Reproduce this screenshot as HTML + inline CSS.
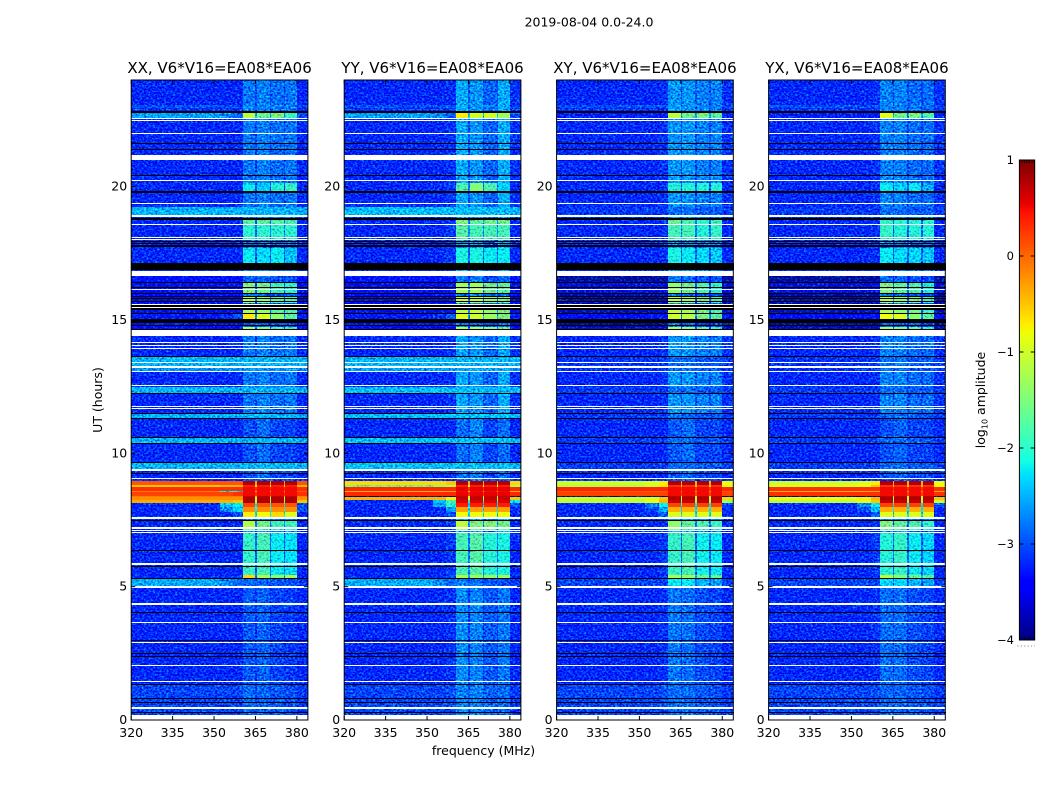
<!DOCTYPE html>
<html lang="en">
<head>
<meta charset="utf-8">
<title>2019-08-04 0.0-24.0</title>
<style>
html,body{margin:0;padding:0;background:#fff;width:1050px;height:800px;overflow:hidden}
svg{display:block}
text{font-family:"DejaVu Sans","Liberation Sans",sans-serif;fill:#000}
</style>
</head>
<body>
<svg id="figure" xmlns="http://www.w3.org/2000/svg" width="1050" height="800" viewBox="0 0 1050 800">
  <defs>
    <filter id="speckle" filterUnits="userSpaceOnUse" x="0" y="0" width="1050" height="800" color-interpolation-filters="sRGB">
      <feTurbulence type="fractalNoise" baseFrequency="0.45 0.55" numOctaves="2" seed="7" result="t"/>
      <feColorMatrix in="t" type="matrix" values="0 0 0 0 0.5  1 0 0 0 0  0.3 0 0 0 0.35  0 0 0 0 1" result="n"/>
      <feComposite in="SourceGraphic" in2="n" operator="arithmetic" k1="0" k2="1" k3="1.5" k4="-0.75" result="m"/>
      <feComposite in="m" in2="SourceGraphic" operator="in"/>
    </filter>
  </defs>
  <text x="589" y="26.5" font-size="12.5" text-anchor="middle">2019-08-04 0.0-24.0</text>
  <text x="483.5" y="755" font-size="12.5" text-anchor="middle">frequency (MHz)</text>
  <text x="0" y="0" font-size="12.5" text-anchor="middle" transform="translate(102 400) rotate(-90)">UT (hours)</text>
  <text x="0" y="0" font-size="12.5" text-anchor="middle" transform="translate(985 400) rotate(-90)">log<tspan font-size="8" dy="2.5">10</tspan><tspan dy="-2.5"> amplitude</tspan></text>
  <line x1="1017.5" x2="1035" y1="646" y2="646" stroke="#777" stroke-width="1" stroke-dasharray="1 2.4"/>
</svg>
<script>
// ---- chart data ----------------------------------------------------------
const polarizations = ['XX', 'YY', 'XY', 'YX'];
const baselineLabel = 'V6*V16=EA08*EA06';
const xTicks = [320, 335, 350, 365, 380];
const yTicks = [0, 5, 10, 15, 20];
const colorTicks = [1, 0, -1, -2, -3, -4];
const colorTickLabels = ['1', '0', '\u22121', '\u22122', '\u22123', '\u22124'];
const xDomain = [320, 384];
const yDomain = [0, 24];
const colorDomain = [-4, 1];

// frequency column edges in MHz, and which spectrum slot each column reads
const freqEdges = [320, 352, 357, 360.5, 365, 365.6, 370.2, 370.8, 375.2, 375.8, 380, 384];
const columnSlots = [0, 1, 2, 3, 7, 4, 7, 5, 7, 6, 8];

// rows: [upper edge in UT hours, spectrum code]; w = flagged blank, k = flagged black
const rows = [
[24,'q'],[23.06,'qf'],[22.96,'q'],[22.92,'qf'],[22.875,'q'],[22.84,'k'],[22.77,'bB'],[22.575,'w'],[22.54,'q'],[22.5,'w'],[22.46,'q'],
[22.01,'w'],[21.975,'q'],[21.64,'k'],[21.6,'q'],[21.41,'k'],[21.375,'q'],[21.19,'w'],[21,'q'],[20.44,'k'],
[20.4,'q'],[20.25,'w'],[20.21,'q'],[20.14,'blk1'],[19.82,'k'],[19.78,'q'],[19.39,'w'],[19.35,'q'],[19.22,'bar'],
[18.92,'w'],[18.88,'q'],[18.81,'k'],[18.75,'blk2'],[18.6,'w'],[18.56,'blk3'],[18.13,'w'],[18.09,'blk3'],[18.04,'w'],
[18,'q'],[17.96,'k'],[17.93,'q'],[17.89,'k'],[17.85,'q'],[17.81,'k'],[17.75,'q'],[17.7,'blk4'],[17.12,'k'],
[16.875,'q'],[16.84,'w'],[16.65,'d'],[16.425,'k'],[16.39,'blk5a'],[16.24,'k'],[16.2,'blk5a'],[16.18,'w'],[16.14,'blk5a'],
[16.01,'k'],[15.98,'d'],[15.9,'k'],[15.86,'blk5'],[15.825,'k'],[15.79,'blk5'],[15.71,'k'],[15.675,'blk5'],[15.64,'d'],
[15.6,'w'],[15.56,'k'],[15.5,'w'],[15.46,'k'],[15.375,'blk5'],[15.27,'k'],[15.24,'blk6'],[15.02,'k'],[14.876,'d'],
[14.8,'k'],[14.775,'d'],[14.72,'blk5'],[14.67,'k'],[14.625,'w'],[14.4,'q'],
[14.18,'w'],[14.14,'q'],[14.06,'w'],[14.03,'q'],[13.95,'w'],[13.91,'q'],[13.65,'k'],[13.61,'bar2'],[13.44,'w'],
[13.41,'bar2'],[13.26,'w'],[13.21,'bar3'],[13.09,'w'],[13.05,'q'],[12.58,'w'],[12.54,'q'],[12.49,'bar'],[12.25,'k'],
[12.23,'q'],[11.79,'w'],[11.76,'q'],[11.7,'w'],[11.66,'q'],[11.53,'k'],[11.5,'bar'],[11.33,'k'],[11.3,'qn'],
[10.62,'k'],[10.59,'bar'],[10.38,'k'],[10.35,'qn'],[9.68,'k'],[9.65,'bar'],[9.42,'w'],[9.35,'qn'],[9.26,'k'],
[9.24,'qn'],[9.06,'w'],[9.02,'qn'],[8.95,'r1'],[8.81,'r2'],[8.75,'r3'],[8.6,'r4'],[8.55,'r5'],[8.4,'r6'],[8.35,'r7'],
[8.25,'r8'],[8.14,'r9'],[7.99,'r10'],[7.8,'r11'],[7.62,'w'],[7.55,'q'],[7.5,'k'],[7.46,'blk8'],[7.22,'w'],[7.16,'blk7'],
[7.13,'w'],[7.09,'q'],[7.05,'w'],[7.01,'blk9'],[6.39,'k'],[6.36,'blk9'],[5.87,'w'],[5.83,'blk9'],[5.78,'k'],
[5.74,'blk9'],[5.44,'blk10'],[5.34,'k'],[5.31,'bar4'],[5.04,'w'],[4.95,'qb'],[4.37,'w'],[4.33,'qb'],[4.05,'k'],
[4.01,'qb'],[3.66,'w'],[3.62,'qb'],[3,'k'],[2.97,'qb'],[2.91,'w'],[2.87,'qb'],[2.53,'k'],[2.49,'qb'],[2.41,'k'],
[2.36,'qb'],[2.08,'w'],[2.04,'qb'],[1.48,'w'],[1.44,'qb'],[1.35,'k'],[1.31,'qc'],[0.81,'k'],[0.79,'qc'],[0.68,'k'],
[0.64,'qc'],[0.47,'w'],[0.43,'qc'],[0.3,'k'],[0.26,'qc'],[0.19,'w']
];

// log10 amplitude per slot: [bg, ramp1, ramp2, band1, band2, band3, band4, gap, right]
const spectraXX = {
q:[-3.2,-3.2,-3.2,-2.8,-2.75,-2.85,-2.8,-3.05,-3.2], qf:[-3,-3,-3,-2.7,-2.75,-2.75,-2.75,-2.95,-3.05],
d:[-3.35,-3.35,-3.35,-2.9,-2.9,-3,-3,-3.1,-3.35],
qn:[-3.2,-3.2,-3.2,-3,-2.85,-3.05,-3.05,-3.1,-3.2], qb:[-3.2,-3.2,-3.2,-2.95,-2.9,-3.05,-3.1,-3.15,-3.2],
qc:[-3.05,-3.05,-3.05,-2.85,-2.9,-2.95,-3,-3.05,-3.1],
bB:[-2.6,-2.7,-2.9,-1.1,-1.6,-1.5,-1.9,-2.6,-3],
bar:[-2.5,-2.5,-2.5,-2.5,-2.5,-2.5,-2.5,-2.5,-2.55], bar2:[-2.5,-2.5,-2.5,-2.5,-2.5,-2.5,-2.5,-2.5,-2.5],
bar3:[-2.65,-2.65,-2.65,-2.6,-2.65,-2.65,-2.65,-2.65,-2.75], bar4:[-2.55,-2.7,-2.85,-2.85,-2.9,-2.95,-3,-3,-3.1],
blk1:[-3.2,-3.2,-3.2,-2.2,-2.4,-2.05,-1.95,-3,-3.2], blk2:[-3.2,-3.2,-3.2,-1.7,-1.7,-1.75,-1.8,-2.8,-3.2],
blk3:[-3.2,-3.2,-3.2,-2,-2,-2,-2,-2.8,-3.2], blk4:[-3.2,-3.2,-3.2,-2.2,-2.3,-2.2,-2.45,-2.95,-3.2],
blk5:[-3.5,-3.5,-3.5,-1.2,-1.4,-1.7,-1.8,-2.9,-3.5], blk5a:[-3.4,-3.4,-3.4,-1.5,-1.6,-1.9,-2,-2.9,-3.4],
blk6:[-3.3,-3.2,-3,-0.7,-0.9,-1.4,-1.7,-2.7,-3.3],
blk7:[-3.2,-3.2,-3.2,-1.4,-1.7,-1.9,-1.9,-2.8,-3.2], blk8:[-3.2,-3.2,-3.2,-1.2,-1.6,-1.9,-1.9,-2.8,-3.2],
blk9:[-3.2,-3.2,-3.2,-1.95,-1.85,-2.2,-2.25,-2.9,-3.2], blk10:[-3.2,-3.2,-3.1,-0.6,-1.2,-1.4,-1.2,-2.7,-3.2],
r1:[0.1,0.1,0.1,0.8,0.8,0.8,0.8,-0.3,0.1], r2:[-0.5,-0.4,-0.4,0.4,0.4,0.4,0.4,-0.6,-0.4],
r3:[0.3,0.3,0.3,0.5,0.5,0.5,0.5,0.3,0.3], r4:[-0.1,-2.2,-2.2,0.5,0.5,0.5,0.5,-0.3,0.1],
r5:[0.2,0.2,0.3,0.5,0.5,0.5,0.5,0.3,0.3], r6:[-0.1,-0.1,-0.1,0.7,0.7,0.7,0.7,-0.4,-0.1],
r7:[-0.2,-0.2,-0.2,0.8,0.8,0.8,0.8,-1,-0.2], r8:[-0.35,-0.4,-0.5,0.8,0.8,0.8,0.8,-1.2,-0.5],
r9:[-3.2,-2.4,-2.2,0.2,0.1,0.1,0.1,-2.1,-3], r10:[-3.2,-2.7,-2.3,-0.2,-0.2,-0.2,-0.2,-2.1,-3],
r11:[-3.2,-3.2,-3,-0.7,-0.8,-0.6,-0.9,-2.2,-3.2]
};
const spectraYY = {
q:[-3.2,-3.2,-3.15,-2.55,-2.65,-2.9,-2.55,-3,-3.15], qf:[-3,-3,-3,-2.5,-2.65,-2.75,-2.55,-2.9,-3.05],
d:[-3.35,-3.35,-3.3,-2.8,-2.8,-3,-2.9,-3.1,-3.35],
qn:[-3.2,-3.2,-3.2,-2.85,-2.75,-3.05,-2.85,-3.1,-3.2], qb:[-3.2,-3.2,-3.15,-2.7,-2.75,-2.95,-2.8,-3.1,-3.2],
qc:[-3.05,-3.05,-3,-2.75,-2.75,-2.9,-2.85,-3,-3.1],
bB:[-2.6,-2.7,-2.9,-0.7,-1,-1,-1.3,-2.4,-3],
bar:[-2.45,-2.45,-2.45,-2.45,-2.45,-2.45,-2.45,-2.45,-2.5], bar2:[-2.5,-2.5,-2.5,-2.5,-2.5,-2.5,-2.5,-2.5,-2.5],
bar3:[-2.6,-2.6,-2.6,-2.55,-2.55,-2.55,-2.55,-2.6,-2.65], bar4:[-2.55,-2.7,-2.85,-2.75,-2.85,-2.95,-3,-3,-3.1],
blk1:[-3.2,-3.2,-3.1,-1.8,-1.45,-1.8,-2.35,-2.8,-3.2], blk2:[-3.2,-3.2,-3.1,-1.5,-1.7,-1.6,-1.6,-2.7,-3.2],
blk3:[-3.2,-3.2,-3.1,-1.75,-1.85,-1.85,-1.85,-2.7,-3.2], blk4:[-3.2,-3.2,-3.1,-2.1,-2.1,-2.2,-2.2,-2.9,-3.2],
blk5:[-3.5,-3.5,-3.4,-1.1,-1.1,-1.4,-1.5,-2.8,-3.5], blk5a:[-3.4,-3.4,-3.3,-1.3,-1.3,-1.6,-1.7,-2.8,-3.4],
blk6:[-3.3,-3.2,-3,-0.9,-1,-1.3,-1.5,-2.6,-3.3],
blk7:[-3.2,-3.2,-3.1,-1.2,-1.5,-1.6,-1.6,-2.7,-3.2], blk8:[-3.2,-3.2,-3.1,-1.1,-1.5,-1.5,-1.6,-2.7,-3.2],
blk9:[-3.2,-3.2,-3.1,-1.85,-1.75,-2.05,-2.1,-2.8,-3.2], blk10:[-3.2,-3.2,-3,-1.2,-1.3,-1.3,-1.3,-2.6,-3.2],
r1:[-0.6,-0.6,-0.5,0.8,0.8,0.8,0.8,-0.4,-0.6], r2:[-1.5,-1.4,-1.2,0.4,0.4,0.4,0.4,-0.8,-1.2],
r3:[0.35,0.35,0.35,0.55,0.55,0.55,0.55,0.3,0.35], r4:[-0.4,-0.4,-0.3,0.5,0.5,0.5,0.5,-0.3,-0.4],
r5:[0.35,0.35,0.35,0.55,0.55,0.55,0.55,0.3,0.35], r6:[-4,-4,-4,0.7,0.7,0.7,0.7,-1,-4],
r7:[-0.4,-0.4,-0.7,0.7,0.7,0.7,0.7,-1,-0.5], r8:[-3.2,-2.4,-1.8,0.6,0.6,0.6,0.6,-2,-2.2],
r9:[-3.2,-2.6,-2,0.4,0.4,0.4,0.4,-2.3,-3], r10:[-3.2,-3.2,-2.6,-0.3,-0.3,-0.3,-0.3,-2.3,-3.2],
r11:[-3.2,-3.2,-3,-0.8,-0.8,-0.8,-0.8,-2.3,-3.2]
};
const spectraXY = {
q:[-3.2,-3.2,-3.15,-2.65,-2.65,-2.75,-2.75,-3,-3.15], qf:[-3,-3,-3,-2.6,-2.65,-2.75,-2.75,-2.9,-3.05],
d:[-3.85,-3.85,-3.85,-2.8,-2.85,-3,-3,-3.4,-3.85],
qn:[-3.2,-3.2,-3.2,-2.95,-2.85,-3.05,-3.05,-3.1,-3.2], qb:[-3.2,-3.2,-3.15,-2.8,-2.85,-3,-3.05,-3.1,-3.2],
qc:[-3.05,-3.05,-3,-2.85,-2.85,-2.95,-3,-3,-3.1],
bB:[-3.25,-3.25,-3.25,-1.1,-1.6,-1.5,-1.7,-2.7,-3.25],
bar:[-3.1,-3.1,-3.1,-2.85,-2.85,-2.95,-2.95,-3,-3.1], bar2:[-3.15,-3.15,-3.1,-2.85,-2.85,-2.95,-2.95,-3,-3.1],
bar3:[-3.15,-3.15,-3.1,-2.85,-2.85,-2.95,-2.95,-3,-3.1], bar4:[-3.05,-3.05,-3.05,-2.2,-2.2,-2.5,-2.6,-2.95,-3.1],
blk1:[-3.2,-3.2,-3.15,-2.05,-2.05,-2.05,-2.05,-2.9,-3.2], blk2:[-3.2,-3.2,-3.15,-1.6,-1.8,-1.95,-1.85,-2.8,-3.2],
blk3:[-3.2,-3.2,-3.15,-1.85,-1.85,-2.05,-1.95,-2.8,-3.2], blk4:[-3.2,-3.2,-3.15,-2.1,-2.2,-2.3,-2.4,-2.95,-3.2],
blk5:[-3.7,-3.7,-3.65,-1.1,-1.3,-1.5,-1.8,-3,-3.7], blk5a:[-3.55,-3.55,-3.5,-1.4,-1.6,-1.8,-2,-3,-3.55],
blk6:[-3.5,-3.4,-3.3,-1,-1.1,-1.5,-1.7,-2.8,-3.5],
blk7:[-3.2,-3.2,-3.15,-1.4,-1.7,-1.8,-1.9,-2.8,-3.2], blk8:[-3.2,-3.2,-3.15,-1.4,-1.7,-1.8,-1.9,-2.8,-3.2],
blk9:[-3.2,-3.2,-3.1,-1.95,-1.85,-2.15,-2.2,-2.9,-3.2], blk10:[-3.2,-3.2,-3.1,-1.2,-1.3,-1.5,-1.6,-2.7,-3.2],
r1:[-1,-0.9,-0.7,0.8,0.8,0.8,0.8,-0.4,-0.8], r2:[-1.2,-1,-0.7,0.3,0.3,0.3,0.3,-0.5,-0.9],
r3:[0.35,0.35,0.35,0.5,0.5,0.5,0.5,0.3,0.35], r4:[0.1,0.1,0.1,0.5,0.5,0.5,0.5,-0.2,0.1],
r5:[0.2,0.2,0.2,0.5,0.5,0.5,0.5,0.2,0.2], r6:[-4,-4,-4,0.7,0.7,0.7,0.7,-1,-4],
r7:[-1,-0.9,-0.5,0.8,0.8,0.8,0.8,-1,-0.6], r8:[-1.1,-0.8,-0.4,0.7,0.7,0.7,0.7,-1.3,-1.3],
r9:[-3.2,-2.8,-2.2,0.2,0.2,0.2,0.2,-2.2,-3], r10:[-3.2,-3,-2.5,-0.4,-0.4,-0.4,-0.4,-2.3,-3.2],
r11:[-3.2,-3.2,-2.9,-0.9,-0.9,-0.9,-0.9,-2.3,-3.2]
};
const spectraYX = {
q:[-3.2,-3.2,-3.15,-2.75,-2.75,-2.85,-2.85,-3.05,-3.15], qf:[-3,-3,-3,-2.7,-2.75,-2.75,-2.85,-2.95,-3.05],
d:[-3.85,-3.85,-3.85,-2.85,-2.9,-3,-3.05,-3.4,-3.85],
qn:[-3.2,-3.2,-3.2,-3,-2.9,-3.05,-3.05,-3.1,-3.2], qb:[-3.2,-3.2,-3.15,-2.85,-2.85,-3,-3.05,-3.1,-3.2],
qc:[-3.05,-3.05,-3,-2.9,-2.9,-2.95,-3,-3,-3.1],
bB:[-3.25,-3.25,-3.25,-0.9,-1.6,-1.5,-1.8,-2.7,-3.25],
bar:[-3.1,-3.1,-3.1,-2.85,-2.85,-2.95,-2.95,-3,-3.1], bar2:[-3.15,-3.15,-3.1,-2.85,-2.85,-2.95,-2.95,-3,-3.1],
bar3:[-3.15,-3.15,-3.1,-2.85,-2.85,-2.95,-2.95,-3,-3.1], bar4:[-3.05,-3.05,-3.05,-2.3,-2.3,-2.5,-2.6,-2.95,-3.1],
blk1:[-3.2,-3.2,-3.15,-2.2,-2.35,-2.2,-2.55,-2.95,-3.2], blk2:[-3.2,-3.2,-3.15,-1.95,-2,-2,-2,-2.9,-3.2],
blk3:[-3.2,-3.2,-3.15,-1.95,-2.05,-2.05,-2.05,-2.9,-3.2], blk4:[-3.2,-3.2,-3.15,-2.2,-2.3,-2.3,-2.4,-2.95,-3.2],
blk5:[-3.7,-3.7,-3.65,-1.2,-1.4,-1.5,-1.9,-3,-3.7], blk5a:[-3.55,-3.55,-3.5,-1.5,-1.7,-1.8,-2.1,-3,-3.55],
blk6:[-3.5,-3.4,-3.3,-0.8,-0.9,-1.4,-1.7,-2.8,-3.5],
blk7:[-3.2,-3.2,-3.15,-1.5,-1.7,-1.8,-2,-2.8,-3.2], blk8:[-3.2,-3.2,-3.15,-1.5,-1.7,-1.8,-2,-2.8,-3.2],
blk9:[-3.2,-3.2,-3.1,-2.05,-1.95,-2.2,-2.35,-2.9,-3.2], blk10:[-3.2,-3.2,-3.1,-1.1,-1.4,-1.5,-1.7,-2.7,-3.2],
r1:[-1,-0.9,-0.7,0.8,0.8,0.8,0.8,-0.4,-0.8], r2:[-0.9,-0.8,-0.5,0.3,0.3,0.3,0.3,-0.5,-0.8],
r3:[0.3,0.3,0.3,0.5,0.5,0.5,0.5,0.3,0.3], r4:[-0.4,-0.4,-0.3,0.5,0.5,0.5,0.5,-0.2,-0.3],
r5:[0.3,0.3,0.3,0.5,0.5,0.5,0.5,0.2,0.3], r6:[-4,-4,-4,0.7,0.7,0.7,0.7,-1,-4],
r7:[-0.8,-0.7,-0.4,0.8,0.8,0.8,0.8,-1,-0.5], r8:[-1.1,-0.9,-0.5,0.7,0.7,0.7,0.7,-1.3,-1],
r9:[-3.2,-2.7,-2.2,0.2,0.2,0.2,0.2,-2.2,-3], r10:[-3.2,-3,-2.5,-0.4,-0.4,-0.4,-0.4,-2.3,-3.2],
r11:[-3.2,-3.2,-2.9,-0.9,-0.9,-0.9,-0.9,-2.3,-3.2]
};
const spectraByPanel = [spectraXX, spectraYY, spectraXY, spectraYX];

// ---- layout --------------------------------------------------------------
const plotTop = 80, plotBottom = 720, plotWidth = 176.7;
const panelOrigins = [131.2, 344.2, 556.6, 768.6];
const barLeft = 1019.4, barRight = 1034.7, barTop = 160, barBottom = 640, barSteps = 240;
const NS = 'http://www.w3.org/2000/svg';
const figure = document.getElementById('figure');

function make(tag, attrs, parent, txt) {
  const el = document.createElementNS(NS, tag);
  for (const k in attrs) el.setAttribute(k, attrs[k]);
  if (txt !== undefined) el.textContent = txt;
  parent.appendChild(el);
  return el;
}
function yScale(h) { return plotBottom - (h - yDomain[0]) / (yDomain[1] - yDomain[0]) * (plotBottom - plotTop); }
function xScaleFor(left) { return f => left + (f - xDomain[0]) / (xDomain[1] - xDomain[0]) * plotWidth; }
function jetChannel(p, pts) {
  for (let i = 1; i < pts.length; i++) {
    if (p <= pts[i][0]) {
      const a = pts[i - 1], b = pts[i];
      return a[1] + (b[1] - a[1]) * (p - a[0]) / (b[0] - a[0]);
    }
  }
  return pts[pts.length - 1][1];
}
const jetR = [[0, 0], [0.35, 0], [0.66, 1], [0.89, 1], [1, 0.5]];
const jetG = [[0, 0], [0.125, 0], [0.375, 1], [0.64, 1], [0.91, 0], [1, 0]];
const jetB = [[0, 0.5], [0.11, 1], [0.34, 1], [0.65, 0], [1, 0]];
function colorOf(v) {
  const p = Math.max(0, Math.min(1, (v - colorDomain[0]) / (colorDomain[1] - colorDomain[0])));
  const c = [jetR, jetG, jetB].map(t => Math.round(jetChannel(p, t) * 255));
  return 'rgb(' + c.join(',') + ')';
}

// ---- panels --------------------------------------------------------------
polarizations.forEach((pol, pi) => {
  const left = panelOrigins[pi];
  const xScale = xScaleFor(left);
  const spectra = spectraByPanel[pi];
  const panel = make('g', {}, figure);
  
  

  const speckled = make('g', { filter: 'url(#speckle)', 'shape-rendering': 'crispEdges' }, panel);
  
  
  const smooth = make('g', { 'shape-rendering': 'crispEdges' }, panel);
  
  
  const flagged = make('g', { 'shape-rendering': 'crispEdges' }, panel);
  
  

  rows.forEach((row, ri) => {
    const y0 = Math.round(yScale(row[0]));
    const y1 = Math.max(y0 + 1, Math.round(yScale(ri + 1 < rows.length ? rows[ri + 1][0] : yDomain[0])));
    const code = row[1];
    if (code === 'w' || code === 'k') {
      const strip = make('rect', { x: Math.round(xScale(xDomain[0])), y: y0, width: Math.round(plotWidth), height: y1 - y0, fill: code === 'w' ? '#fff' : '#000' }, flagged);
      
      
      return;
    }
    const spectrum = spectra[code];
    columnSlots.forEach((slot, ci) => {
      const v = spectrum[slot];
      const xa = Math.round(xScale(freqEdges[ci]));
      const xb = Math.round(xScale(freqEdges[ci + 1]));
      const cell = make('rect', { x: xa, y: y0, width: xb - xa, height: y1 - y0, fill: colorOf(v) }, v > -1.5 ? smooth : speckled);
      
      
    });
  });

  const title = make('text', { x: left + plotWidth / 2, y: 73, 'font-size': 15, 'text-anchor': 'middle' }, panel, pol + ', ' + baselineLabel);
  
  

  const frame = make('rect', { x: left, y: plotTop, width: plotWidth, height: plotBottom - plotTop, fill: 'none', stroke: '#000', 'stroke-width': 1 }, panel);
  
  

  xTicks.forEach(t => {
    const x = xScale(t);
    const tb = make('line', { x1: x, x2: x, y1: plotBottom, y2: plotBottom - 4, stroke: '#000', 'stroke-width': 1 }, panel);
    
    
    const tt = make('line', { x1: x, x2: x, y1: plotTop, y2: plotTop + 4, stroke: '#000', 'stroke-width': 1 }, panel);
    
    
    const lab = make('text', { x: x, y: 737, 'font-size': 12.5, 'text-anchor': 'middle' }, panel, String(t));
    
    
  });
  yTicks.forEach(t => {
    const y = yScale(t);
    const tl = make('line', { x1: left, x2: left + 4, y1: y, y2: y, stroke: '#000', 'stroke-width': 1 }, panel);
    
    
    const tr = make('line', { x1: left + plotWidth, x2: left + plotWidth - 4, y1: y, y2: y, stroke: '#000', 'stroke-width': 1 }, panel);
    
    
    const lab = make('text', { x: left - 4, y: y + 4, 'font-size': 12.5, 'text-anchor': 'end' }, panel, String(t));
    
    
  });
});

// ---- colorbar ------------------------------------------------------------
const bar = make('g', { 'shape-rendering': 'crispEdges' }, figure);


function barY(v) { return barBottom - (v - colorDomain[0]) / (colorDomain[1] - colorDomain[0]) * (barBottom - barTop); }
for (let i = 0; i < barSteps; i++) {
  const v0 = colorDomain[0] + (colorDomain[1] - colorDomain[0]) * i / barSteps;
  const v1 = colorDomain[0] + (colorDomain[1] - colorDomain[0]) * (i + 1) / barSteps;
  const step = make('rect', { x: barLeft, y: barY(v1), width: barRight - barLeft, height: barY(v0) - barY(v1) + 0.5, fill: colorOf((v0 + v1) / 2) }, bar);
  
  
}
const barFrame = make('rect', { x: barLeft, y: barTop, width: barRight - barLeft, height: barBottom - barTop, fill: 'none', stroke: '#000', 'stroke-width': 1 }, figure);


for (let i = 1; i < 6; i++) {
  const mx = barLeft + (barRight - barLeft) * i / 6;
  const capTop = make('line', { x1: mx, x2: mx, y1: barTop, y2: barTop + 3, stroke: '#000', 'stroke-width': 0.8 }, figure);
  
  
  const capBottom = make('line', { x1: mx, x2: mx, y1: barBottom, y2: barBottom - 3, stroke: '#000', 'stroke-width': 0.8 }, figure);
  
  
}
colorTicks.forEach((t, i) => {
  const y = barY(t);
  const a = make('line', { x1: barLeft, x2: barLeft + 4, y1: y, y2: y, stroke: '#000', 'stroke-width': 1 }, figure);
  
  
  const b = make('line', { x1: barRight, x2: barRight - 4, y1: y, y2: y, stroke: '#000', 'stroke-width': 1 }, figure);
  
  
  const lab = make('text', { x: 1014, y: y + 4, 'font-size': 11.5, 'text-anchor': 'end' }, figure, colorTickLabels[i]);
  
  
});
</script>
</body>
</html>
